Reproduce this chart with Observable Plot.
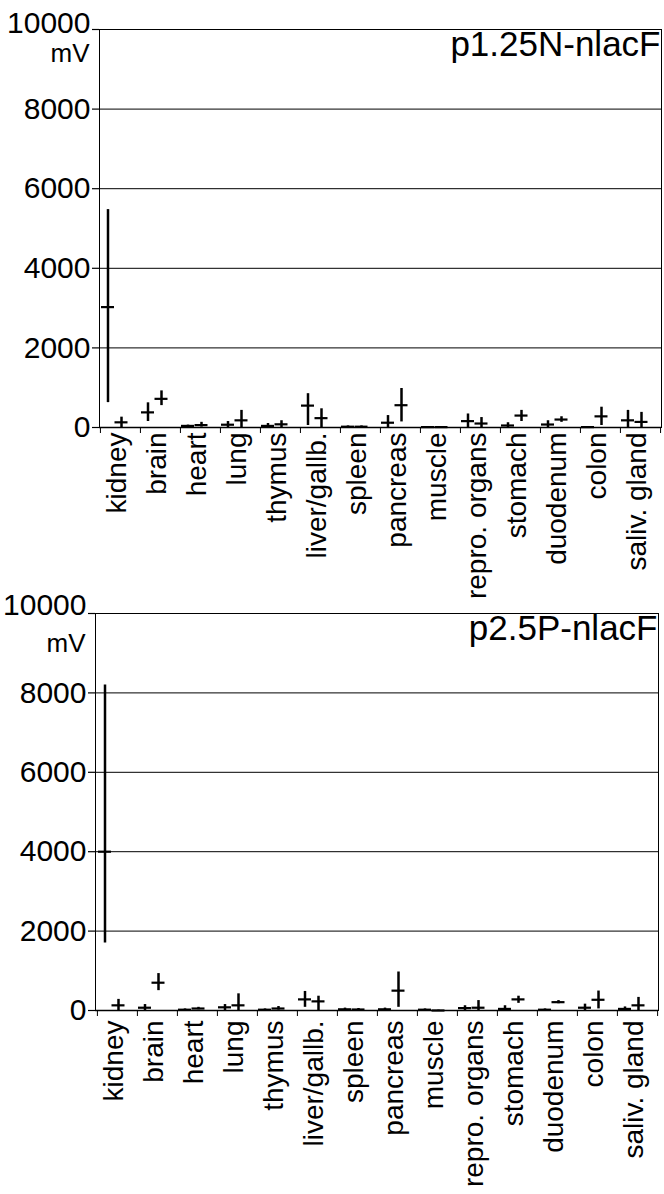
<!DOCTYPE html>
<html><head><meta charset="utf-8">
<script src="https://cdn.jsdelivr.net/npm/d3@7"></script>
<script src="https://cdn.jsdelivr.net/npm/@observablehq/plot@0.6"></script>
<style>body{margin:0;background:#fff} svg{display:block}</style>
</head><body><div id="chart"></div>
<script>
const categories = ["kidney","brain","heart","lung","thymus","liver/gallb.","spleen","pancreas","muscle","repro. organs","stomach","duodenum","colon","saliv. gland"];
const yTicks = [0, 2000, 4000, 6000, 8000, 10000];
const titles = ["p1.25N-nlacF", "p2.5P-nlacF"];
const unitLabel = "mV";

// Panel 1: p1.25N-nlacF
const p1MeanA = [3025, 380, 40, 70, 40, 550, 20, 120, 10, 160, 50, 75, 10, 180];
const p1LoA   = [625, 150, 20, 0, 0, 50, 0, 0, 0, 0, 0, 0, 0, 0];
const p1HiA   = [5475, 620, 60, 150, 100, 850, 40, 300, 20, 340, 120, 170, 20, 430];
const p1MeanB = [130, 720, 60, 180, 80, 235, 20, 560, 10, 100, 300, 200, 280, 140];
const p1LoB   = [0, 550, 10, 0, 0, 0, 0, 140, 0, 0, 150, 130, 50, 0];
const p1HiB   = [260, 920, 130, 430, 170, 470, 40, 980, 20, 250, 430, 270, 510, 380];

// Panel 2: p2.5P-nlacF
const p2MeanA = [4000, 70, 20, 80, 20, 280, 30, 30, 20, 60, 40, 20, 70, 40];
const p2LoA   = [1700, 0, 0, 0, 0, 80, 0, 0, 0, 0, 0, 0, 0, 0];
const p2HiA   = [8200, 150, 40, 150, 40, 480, 60, 60, 40, 120, 120, 40, 160, 90];
const p2MeanB = [130, 700, 50, 130, 50, 230, 25, 500, 0, 70, 280, 210, 270, 130];
const p2LoB   = [0, 500, 20, 0, 10, 0, 0, 80, 0, 0, 180, 170, 40, 0];
const p2HiB   = [280, 930, 80, 420, 100, 360, 50, 970, 10, 250, 360, 250, 490, 330];

function rows(mean, lo, hi) {
  return categories.map((c, i) => ({cat: c, mean: mean[i], lo: lo[i], hi: hi[i]}));
}

const FONT = "'Liberation Sans', Arial, Helvetica, sans-serif";
const topTick = yTicks[yTicks.length - 1];

function panel(opts) {
  const A = opts.a, B = opts.b;
  const mk = {stroke: "black"};
  return Plot.plot({
    width: 664,
    height: opts.height,
    marginTop: opts.marginTop,
    marginBottom: opts.marginBottom,
    marginLeft: opts.marginLeft,
    marginRight: opts.marginRight,
    style: {fontFamily: FONT, background: "white", color: "black", overflow: "visible"},
    x: {domain: categories, padding: 0, axis: null},
    y: {domain: [0, 10000], axis: null},
    marks: [
      Plot.ruleY(yTicks.filter(d => d > 0), {stroke: "black", strokeWidth: 1}),
      Plot.frame({stroke: "black", strokeWidth: 1}),
      Plot.ruleY([0], {stroke: "black", strokeWidth: 1.5}),
      Plot.axisY(yTicks, {tickSize: 7, tickPadding: 2, fontSize: 30, tickFormat: d => d === topTick ? "" : String(d), label: null, strokeWidth: 1.2}),
      Plot.axisY([topTick], {tickSize: 0, tickPadding: 9, fontSize: 30, tickFormat: d => String(d), label: null, dy: opts.topDy}),
      Plot.axisX({tickSize: 0, tickRotate: -90, fontSize: 28, label: null, tickPadding: opts.labelPad, dx: -3}),
      Plot.ruleX(categories, {x: d => d, y1: 0, y2: 0, dx: -opts.bw / 2, insetBottom: -6, stroke: "black"}),
      Plot.ruleX([categories[categories.length - 1]], {x: d => d, y1: 0, y2: 0, dx: opts.bw / 2, insetBottom: -6, stroke: "black"}),
      Plot.ruleX(A, {x: "cat", y1: "lo", y2: "hi", dx: -12.5, strokeWidth: 2.5, ...mk}),
      Plot.tickY(A, {x: "cat", y: "mean", insetLeft: 1, insetRight: 26, strokeWidth: 2.2, ...mk}),
      Plot.ruleX(B, {x: "cat", y1: "lo", y2: "hi", dx: 1, strokeWidth: 2.5, ...mk}),
      Plot.tickY(B, {x: "cat", y: "mean", insetLeft: 14.5, insetRight: 12.5, strokeWidth: 2.2, ...mk}),
      Plot.text([opts.title], {frameAnchor: "top-right", textAnchor: "end", lineAnchor: "top", dx: -1, dy: 2, fontSize: 35}),
      Plot.text([unitLabel], {frameAnchor: "top-left", textAnchor: "end", lineAnchor: "middle", dx: -10, dy: opts.mvDy, fontSize: 26})
    ]
  });
}

const root = document.getElementById("chart");
root.append(panel({
  title: titles[0], a: rows(p1MeanA, p1LoA, p1HiA), b: rows(p1MeanB, p1LoB, p1HiB),
  height: 600, marginTop: 29, marginBottom: 173, marginLeft: 99, marginRight: 3, bw: (664 - 99 - 3) / 14, labelPad: 5, mvDy: 24, topDy: -6
}));
root.append(panel({
  title: titles[1], a: rows(p2MeanA, p2LoA, p2HiA), b: rows(p2MeanB, p2LoB, p2HiB),
  height: 594, marginTop: 13, marginBottom: 184, marginLeft: 95, marginRight: 6, bw: (664 - 95 - 6) / 14, labelPad: 10, mvDy: 30, topDy: -8
}));
</script>
</body></html>
